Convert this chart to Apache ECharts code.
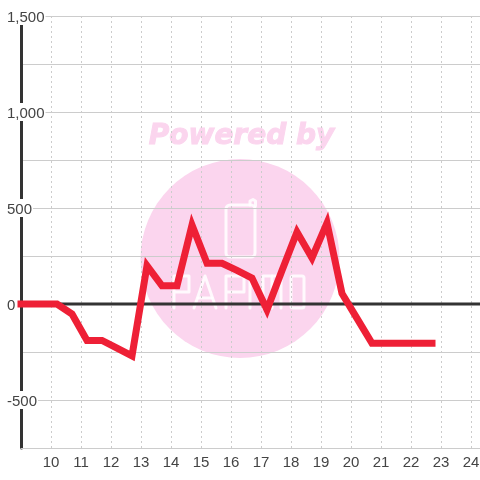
<!DOCTYPE html>
<html>
<head>
<meta charset="utf-8">
<style>html,body{margin:0;padding:0;background:#fff}#c{width:480px;height:480px}</style>
<script src="https://cdn.jsdelivr.net/npm/echarts@6/dist/echarts.min.js"></script>
</head>
<body>
<div id="c"></div>
<script>
const hours = [9,9.7,10.2,10.7,11.2,11.7,12.2,12.7,13.2,13.7,14.2,14.7,15.2,15.7,16.2,16.7,17.2,17.7,18.2,18.7,19.2,19.7,20.2,20.7,21.2,21.7,22.2,22.7];
const values = [0,0,0,-52,-190,-190,-230,-270,200,95,95,411,212,212,175,135,-30,175,375,240,422,55,-75,-205,-205,-205,-205,-205];
const zeroLine = [[9,0],[24.3,0]];
const PINK = '#fbd5ee';
const WM = {stroke:'#fff',lineWidth:3,fill:null,lineCap:'round',lineJoin:'round',opacity:0.85};
const wmLine = (points)=>({type:'polyline',z:-90,silent:true,shape:{points},style:WM});
const wmRect = (x,y,width,height,r)=>({type:'rect',z:-90,silent:true,shape:{x,y,width,height,r},style:WM});
const chart = echarts.init(document.getElementById('c'), null, {renderer:'canvas'});
chart.setOption({
  animation:false,
  backgroundColor:'#fff',
  grid:{left:21,right:0,top:16,bottom:32,outerBoundsMode:'none'},
  xAxis:{
    type:'value',min:9,max:24.3,interval:1,
    axisLine:{onZero:false,lineStyle:{color:'#ccc',width:1}},
    axisTick:{show:false},
    axisLabel:{color:'#444',fontSize:15,fontFamily:'Liberation Sans',margin:7,showMinLabel:false,showMaxLabel:false,
      formatter:v=>(Number.isInteger(v)&&v>9)?String(v):''},
    splitLine:{show:true,lineStyle:{color:'#ccc',width:1,type:[2,3]},showMinLine:false,showMaxLine:false}
  },
  yAxis:{
    type:'value',min:-750,max:1500,interval:250,
    axisLine:{show:true,onZero:false,lineStyle:{color:'#333',width:3}},
    axisTick:{show:false},
    axisLabel:{inside:true,margin:-14,align:'left',
      rich:{a:{color:'#444',fontSize:15,fontFamily:'Liberation Sans',backgroundColor:'#fff',lineHeight:13,padding:[3,1,0,0]}},
      formatter:v=>(v%500===0)?'{a|'+(v===0?'0':v.toLocaleString('en-US'))+'}':''},
    splitLine:{show:true,lineStyle:{color:'#ccc',width:1}}
  },
  graphic:{elements:[
    {type:'circle',z:-100,silent:true,shape:{cx:240,cy:258.5,r:99.5},style:{fill:PINK}},
    {type:'text',z:-100,silent:true,x:241.5,y:136.5,style:{text:'Powered by',fill:PINK,stroke:PINK,lineWidth:1,font:'italic bold 28px "DejaVu Sans"',textAlign:'center',textVerticalAlign:'middle'}},
    wmRect(226,205,29,52,4),
    wmLine([[250,205],[250,201],[253,199.5],[255.5,201],[255.5,206]]),
    wmLine([[174,308],[174,276],[189,276],[189,292],[174,292]]),
    wmLine([[194,308],[205,276],[216,308]]),
    wmLine([[198,298],[212,298]]),
    wmLine([[226,308],[226,276],[244,276],[244,292],[226,292]]),
    wmLine([[250,276],[250,308]]),
    wmLine([[263,308],[263,276],[281,276],[281,308]]),
    wmLine([[272,276],[272,308]]),
    wmRect(291,276,13,32,2)
  ]},
  series:[
    {type:'line',data:zeroLine,symbol:'none',z:2,silent:true,lineStyle:{color:'#333',width:3}},
    {type:'line',data:hours.map((h,i)=>[h,values[i]]),symbol:'none',z:3,silent:true,clip:false,
      lineStyle:{color:'#ee2036',width:7,join:'miter',cap:'square',miterLimit:10}}
  ]
});
</script>
</body>
</html>
